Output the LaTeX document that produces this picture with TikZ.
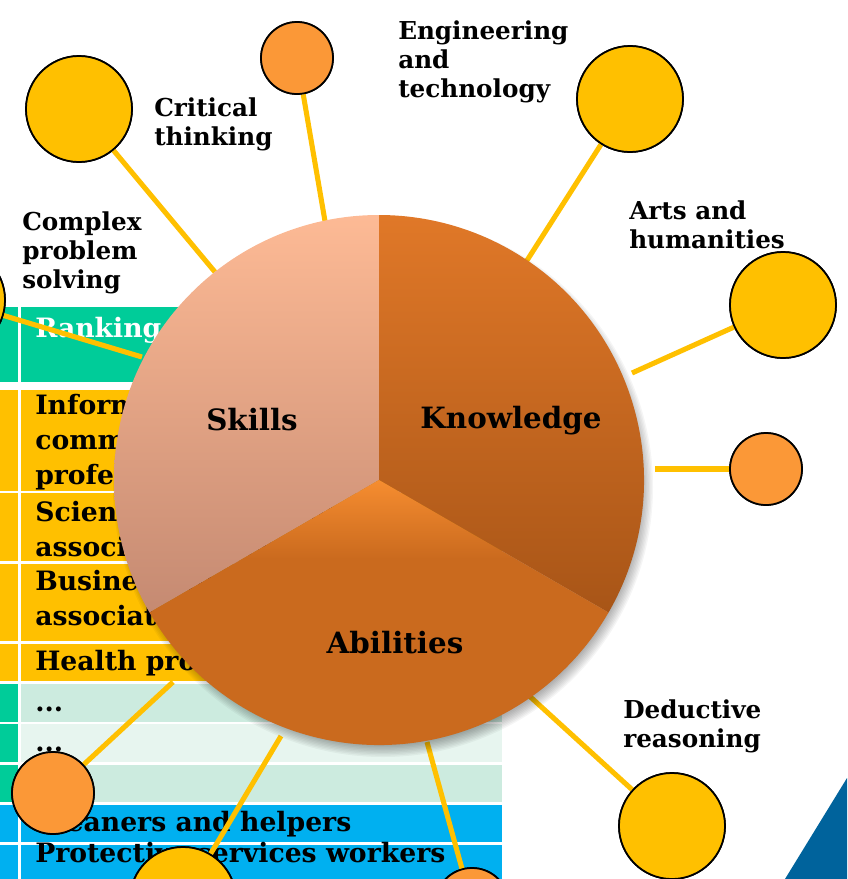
\documentclass[tikz,border=0pt]{standalone}
\usepackage{fontspec}
\setmainfont{DejaVu Serif}
\usetikzlibrary{positioning}

\definecolor{gold}{HTML}{FFC000}
\definecolor{tang}{HTML}{FB9837}
\definecolor{hdgreen}{HTML}{00CC99}
\definecolor{mint}{HTML}{CCEBDF}
\definecolor{mintlt}{HTML}{E7F5EF}
\definecolor{sky}{HTML}{00B0F0}
\definecolor{deepblue}{HTML}{00639C}
\definecolor{skilltop}{HTML}{FDBA95}
\definecolor{skillbot}{HTML}{C58A72}
\definecolor{knowtop}{HTML}{E07828}
\definecolor{knowbot}{HTML}{A85517}
\definecolor{ablight}{HTML}{F68D30}
\definecolor{abdark}{HTML}{CA6A1E}

% lighter orange only near the centre of the lower slice
\pgfdeclareverticalshading{abil}{100bp}{color(0bp)=(abdark); color(62bp)=(abdark); color(75bp)=(ablight); color(100bp)=(ablight)}

\newcommand\lblfont{\fontsize{18.5pt}{21.4pt}\selectfont\bfseries}
\newcommand\cellfont{\fontsize{20pt}{26pt}\selectfont\bfseries}
\newcommand\piefont{\fontsize{22pt}{26pt}\selectfont\bfseries}

\begin{document}
\begin{tikzpicture}[x=0.75pt, y=0.75pt,
  bub/.style={circle, draw=black, line width=1.3pt, fill=gold, minimum size=79.5pt, inner sep=0pt},
  obub/.style={bub, fill=tang, minimum size=54pt},
  link/.style={gold, line width=3.8pt},
  lbl/.style={anchor=base west, align=left, inner sep=0pt, font=\lblfont},
  cell/.style={anchor=base west, align=left, inner sep=0pt, font=\cellfont},
  part/.style={anchor=base, inner sep=0pt, font=\piefont}]

\useasboundingbox (0,0) rectangle (847,-879);
\clip (0,0) rectangle (847,-879);

% table rows: top/bottom/left cell/main cell
\foreach \t/\b/\l/\m in {307/382/hdgreen/hdgreen, 390/491/gold/gold, 493/561/gold/gold,
    564/641/gold/gold, 644/681/gold/gold, 684/722/hdgreen/mint, 724/762/hdgreen/mintlt,
    765/802/hdgreen/mint, 805/842/sky/sky, 845/885/sky/sky}{
  \fill[\l] (0,-\t) rectangle (18,-\b);
  \fill[\m] (21,-\t) rectangle (502,-\b);
}
% (multi-line cells sit on their last line)
\node[cell, text=white] (hd) at (35,-337) {Ranking};
\node[cell] (c1) at (35,-484) {Information and\\communications\\professionals};
\node[cell] (c2) at (35,-556) {Science and engineering\\associate professionals};
\node[cell] (c3) at (35,-625) {Business and administration\\associate professionals};
\node[cell] (c4) at (35,-670) {Health professionals};
\node[cell] (c5) at (35,-711) {...};
\node[cell] (c6) at (35,-751) {...};
\node[cell] (c7) at (35,-831) {Cleaners and helpers};
\node[cell] (c8) at (35,-862) {Protective services workers};

% corner wedge
\fill[deepblue] (785,-879) -- (847,-778) -- (847,-879) -- cycle;

% bubbles
\node[bub] (cps) at (-48,-300) {};
\node[bub] (crit) at (79,-109) {};
\node[obub] (orgT) at (297,-58) {};
\node[bub] (eng) at (630,-99) {};
\node[bub] (arts) at (783,-305) {};
\node[obub] (orgR) at (766,-469) {};
\node[bub] (ded) at (672,-826) {};
\node[obub, minimum size=55.5pt] (orgB) at (472,-905) {};
\node[bub] (botY) at (183,-900) {};
\node[obub, minimum size=61.5pt] (orgL) at (53,-793) {};

% ends of the spokes on the rim
\coordinate (cpsE) at (142,-357);
\coordinate (critE) at (215,-272);
\coordinate (orgTE) at (326,-227);
\coordinate (engE) at (526,-262);
\coordinate (artsE) at (632,-373);
\coordinate (orgRE) at (655,-469);
\coordinate (dedE) at (525,-692);
\coordinate (orgBE) at (427,-742);
\coordinate (botYE) at (281,-736);
\coordinate (orgLE) at (173,-682);

\foreach \n in {cps,crit,orgT,eng,arts,orgR,ded,orgB,botY,orgL}
  \draw[link] (\n) -- (\n E);

% soft shadow under the pie
\foreach \i in {1,...,10}
  \fill[black, opacity=0.04] (383,-487) circle (256+\i*1.4);

% pie
\shade[top color=skilltop, bottom color=skillbot]
  (379,-480) -- ++(90:265) arc[start angle=90, end angle=210, radius=265] -- cycle;
\shade[top color=knowtop, bottom color=knowbot]
  (379,-480) -- ++(-30:265) arc[start angle=-30, end angle=90, radius=265] -- cycle;
\shade[shading=abil]
  (379,-480) -- ++(210:265) arc[start angle=210, end angle=330, radius=265] -- cycle;
\node[part] (pSk) at (252,-430) {Skills};
\node[part] (pKn) at (511,-428) {Knowledge};
\node[part] (pAb) at (395,-653) {Abilities};

% bubbles again on top of the spokes
\foreach \n/\s in {cps/bub,crit/bub,eng/bub,arts/bub,ded/bub,botY/bub,orgT/obub,orgR/obub}
  \node[\s] at (\n) {};
\node[obub, minimum size=55.5pt] at (orgB) {};
\node[obub, minimum size=61.5pt] at (orgL) {};

% labels (base = last line)
\node[lbl] (tCrit) at (154,-145) {Critical\\thinking};
\node[lbl] (tCps) at (22,-288) {Complex\\problem\\solving};
\node[lbl] (tEng) at (398,-97) {Engineering\\and\\technology};
\node[lbl] (tArts) at (629,-248) {Arts and\\humanities};
\node[lbl] (tDed) at (623,-747) {Deductive\\reasoning};
\end{tikzpicture}
\end{document}
